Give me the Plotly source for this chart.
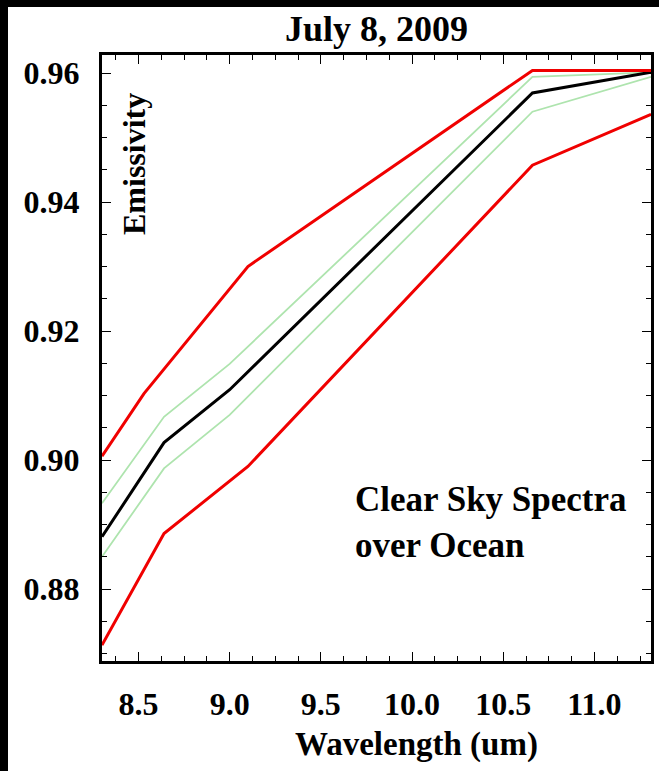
import plotly.graph_objects as go

# ---- data ----
red_upper_x = [8.30, 8.53, 9.10, 10.66, 11.31]
red_upper_y = [0.9006, 0.9103, 0.9300, 0.9604, 0.9604]

green_upper_x = [8.30, 8.64, 9.00, 10.66, 11.31]
green_upper_y = [0.8933, 0.9067, 0.9149, 0.9594, 0.9601]

black_x = [8.30, 8.64, 9.00, 10.66, 11.31]
black_y = [0.8881, 0.9027, 0.9109, 0.9569, 0.9601]

green_lower_x = [8.30, 8.64, 9.00, 10.66, 11.31]
green_lower_y = [0.8850, 0.8987, 0.9070, 0.9540, 0.9594]

red_lower_x = [8.30, 8.64, 9.10, 10.66, 11.31]
red_lower_y = [0.8713, 0.8886, 0.8990, 0.9457, 0.9536]

x_ticks = [8.5, 9.0, 9.5, 10.0, 10.5, 11.0]
x_ticklabels = ["8.5", "9.0", "9.5", "10.0", "10.5", "11.0"]
y_ticks = [0.88, 0.90, 0.92, 0.94, 0.96]
y_ticklabels = ["0.88", "0.90", "0.92", "0.94", "0.96"]

W, H = 659, 771
L, R, T, B = 102, 8, 55, 110
PW, PH = W - L - R, H - T - B

FONT = "Liberation Serif"
RED = "#f00000"
GREEN = "#aee4ae"

fig = go.Figure()
fig.add_trace(go.Scatter(x=green_upper_x, y=green_upper_y, mode="lines",
                         line=dict(color=GREEN, width=1.8), showlegend=False))
fig.add_trace(go.Scatter(x=green_lower_x, y=green_lower_y, mode="lines",
                         line=dict(color=GREEN, width=1.8), showlegend=False))
fig.add_trace(go.Scatter(x=black_x, y=black_y, mode="lines",
                         line=dict(color="black", width=3), showlegend=False))
fig.add_trace(go.Scatter(x=red_upper_x, y=red_upper_y, mode="lines",
                         line=dict(color=RED, width=3), showlegend=False))
fig.add_trace(go.Scatter(x=red_lower_x, y=red_lower_y, mode="lines",
                         line=dict(color=RED, width=3), showlegend=False))

axis_common = dict(showline=True, linecolor="black", linewidth=3, mirror="ticks",
                   ticks="inside", tickcolor="black", tickwidth=1.2, ticklen=9,
                   showgrid=False, zeroline=False,
                   tickfont=dict(family=FONT, size=32, color="black", weight="bold"))

fig.update_xaxes(range=[8.30, 11.31], tickvals=x_ticks, ticktext=x_ticklabels,
                 ticklabelstandoff=13,
                 minor=dict(tick0=8.5, dtick=0.125, ticks="inside", ticklen=5,
                            tickcolor="black", tickwidth=1.2, showgrid=False),
                 **axis_common)
fig.update_yaxes(range=[0.86884, 0.96279], tickvals=y_ticks, ticktext=y_ticklabels,
                 ticklabelstandoff=13,
                 minor=dict(tick0=0.88, dtick=0.005, ticks="inside", ticklen=5,
                            tickcolor="black", tickwidth=1.2, showgrid=False),
                 **axis_common)

def px_x(p):
    return (p - L) / PW

def px_y(p):
    return 1 - (p - T) / PH

annotations = [
    dict(text="<b>July 8, 2009</b>", x=px_x(376), y=px_y(29), xanchor="center", yanchor="middle",
         font=dict(family=FONT, size=36, color="black")),
    dict(text="<b>Emissivity</b>", x=px_x(134), y=px_y(164), xanchor="center", yanchor="middle",
         textangle=-90, font=dict(family=FONT, size=32, color="black")),
    dict(text="<b>Clear Sky Spectra<br>over Ocean</b>", x=px_x(353), y=px_y(522), xanchor="left",
         yanchor="middle", align="left", font=dict(family=FONT, size=35, color="black")),
    dict(text="<b>Wavelength (um)</b>", x=px_x(416), y=px_y(745), xanchor="center", yanchor="middle",
         font=dict(family=FONT, size=33, color="black")),
]
for a in annotations:
    a.update(xref="paper", yref="paper", showarrow=False)

shapes = [
    dict(type="rect", xref="paper", yref="paper", x0=px_x(0), x1=px_x(8), y0=px_y(H), y1=px_y(0),
         fillcolor="black", line=dict(width=0), layer="above"),
    dict(type="rect", xref="paper", yref="paper", x0=px_x(0), x1=px_x(W), y0=px_y(7), y1=px_y(0),
         fillcolor="black", line=dict(width=0), layer="above"),
]

fig.update_layout(width=W, height=H, margin=dict(l=L, r=R, t=T, b=B, autoexpand=False),
                  paper_bgcolor="white", plot_bgcolor="white",
                  annotations=annotations, shapes=shapes, showlegend=False)

fig.write_html("out.html", config={"displayModeBar": False})
